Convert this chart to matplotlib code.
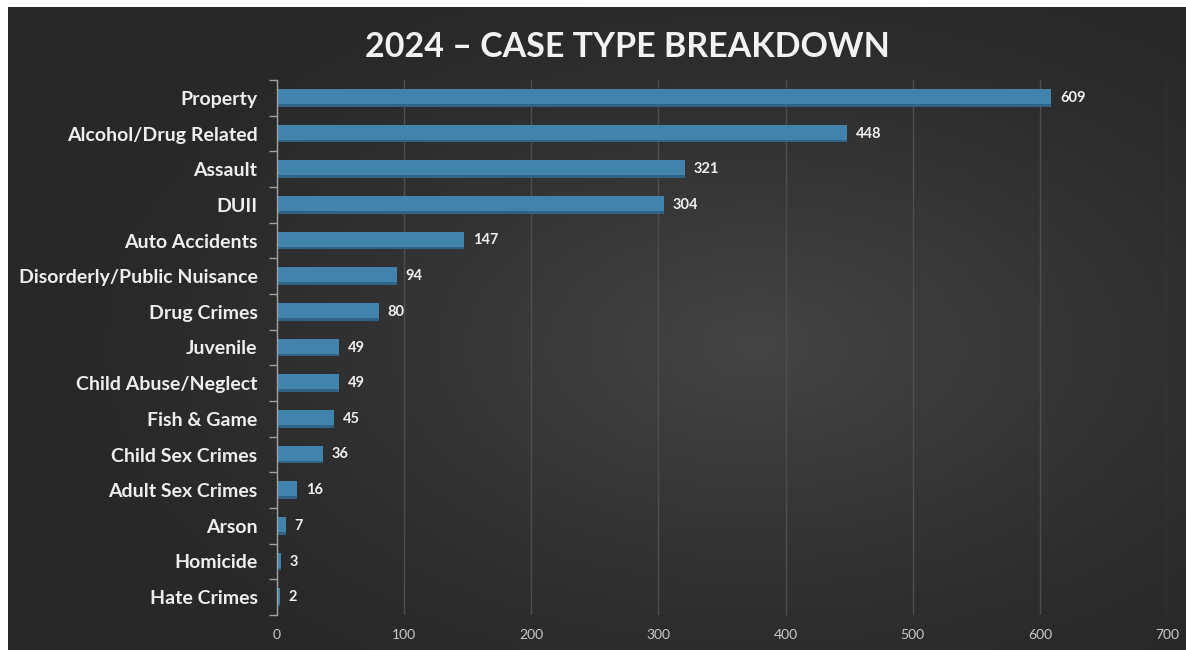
import numpy as np
import matplotlib
matplotlib.use("Agg")
import matplotlib.pyplot as plt

categories = ["Property", "Alcohol/Drug Related", "Assault", "DUII", "Auto Accidents",
              "Disorderly/Public Nuisance", "Drug Crimes", "Juvenile", "Child Abuse/Neglect",
              "Fish & Game", "Child Sex Crimes", "Adult Sex Crimes", "Arson", "Homicide",
              "Hate Crimes"]
values = [609, 448, 321, 304, 147, 94, 80, 49, 49, 45, 36, 16, 7, 3, 2]
x_ticks = [0, 100, 200, 300, 400, 500, 600, 700]
title = "2024 \u2013 CASE TYPE BREAKDOWN"

plt.rcParams['font.family'] = ['Lato', 'DejaVu Sans']

W, H = 1186, 650
fig = plt.figure(figsize=(W / 100, H / 100), dpi=100)
fig.patch.set_facecolor("white")

# background panel with radial glow
bg = fig.add_axes([8 / W, 0, 1 - 8 / W, 1 - 7 / H])
bg.set_axis_off()
yy, xx = np.mgrid[0:200, 0:300]
cx, cy = 190, 105
d = np.sqrt(((xx - cx) / 170.0) ** 2 + ((yy - cy) / 120.0) ** 2)
inten = np.clip(1 - d, 0, 1) ** 1.3
base = np.array([0.16, 0.16, 0.16])
top = np.array([0.27, 0.27, 0.27])
img = base[None, None, :] + (top - base)[None, None, :] * inten[..., None]
bg.imshow(img, aspect="auto", extent=[0, 1, 0, 1], origin="upper")
bg.set_xlim(0, 1)
bg.set_ylim(0, 1)

ax = fig.add_axes([277 / W, 1 - 615 / H, (1167 - 277) / W, 535 / H])
ax.patch.set_alpha(0)
y = np.arange(len(categories))
ax.barh(y, values, height=0.5, color="#4283ab", linewidth=0, zorder=3)
# darker bottom edge on bars
ax.barh(y + 0.21, values, height=0.08, color="#244f6b", linewidth=0, zorder=4, alpha=0.6)
for yi, v in zip(y, values):
    ax.text(v + 7, yi, str(v), va="center", ha="left", color="#f0f0f0",
            fontsize=10.5, fontweight="bold", zorder=5)

ax.set_ylim(len(categories) - 0.5, -0.5)
ax.set_xlim(0, 700)
ax.set_xticks(x_ticks)
ax.set_xticklabels([str(t) for t in x_ticks], color="#c8c8c8", fontsize=10)
ax.set_yticks(y)
ax.set_yticklabels(categories, color="#eeeeee", fontsize=14, fontweight="bold")
ax.tick_params(axis="y", length=0, pad=14)
ax.tick_params(axis="x", length=0, pad=10)
# boundary ticks on y axis
ax.set_yticks(np.arange(len(categories) + 1) - 0.5, minor=True)
ax.tick_params(axis="y", which="minor", length=6, color="#a0a0a0", width=1)
ax.grid(axis="x", color="#4e4e4e", linewidth=1.0, zorder=0)
for s in ["top", "right", "bottom"]:
    ax.spines[s].set_visible(False)
ax.spines["left"].set_color("#a0a0a0")
ax.spines["left"].set_linewidth(1)
ax.spines["left"].set_zorder(6)

fig.text(627 / W, 1 - 47 / H, title, ha="center", va="center", color="#f2f2f2",
         fontsize=24.5, fontweight="bold")

fig.savefig("out.png", dpi=100)
